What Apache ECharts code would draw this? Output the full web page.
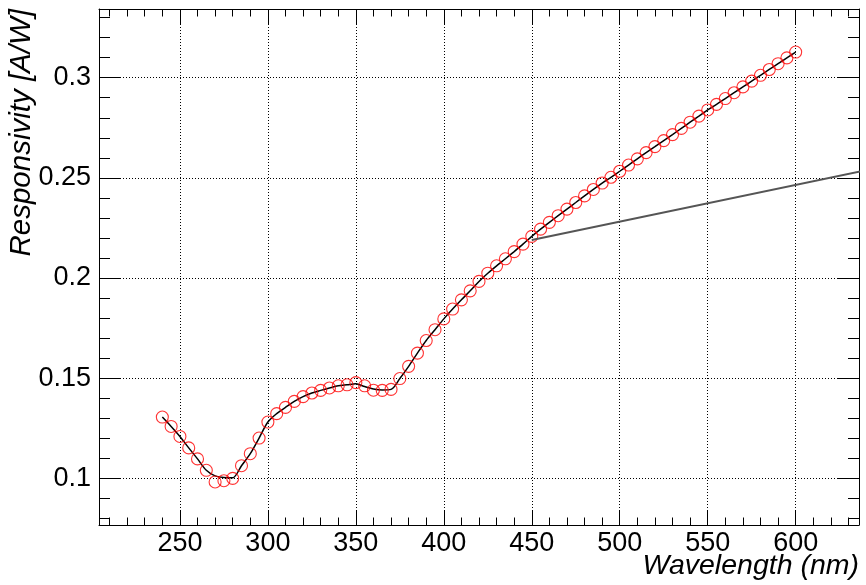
<!DOCTYPE html>
<html><head><meta charset="utf-8">
<script src="https://cdn.jsdelivr.net/npm/echarts@6/dist/echarts.min.js"></script>
<style>html,body{margin:0;padding:0;background:#fff}#c{width:866px;height:585px}</style>
</head><body><div id="c"></div>
<script>
const wavelengths = [240,245,250,255,260,265,270,275,280,285,290,295,300,305,310,315,320,325,330,335,340,345,350,355,360,365,370,375,380,385,390,395,400,405,410,415,420,425,430,435,440,445,450,455,460,465,470,475,480,485,490,495,500,505,510,515,520,525,530,535,540,545,550,555,560,565,570,575,580,585,590,595,600];
const responsivity = [0.1306,0.1259,0.1209,0.1152,0.1097,0.1040,0.0982,0.0988,0.1000,0.1063,0.1123,0.1201,0.1281,0.1323,0.1354,0.1384,0.1408,0.1426,0.1439,0.1451,0.1462,0.1467,0.1478,0.1462,0.1440,0.1439,0.1444,0.1498,0.1559,0.1625,0.1688,0.1742,0.1796,0.1845,0.1891,0.1936,0.1983,0.2024,0.2061,0.2096,0.2132,0.2169,0.2208,0.2244,0.2278,0.2311,0.2344,0.2377,0.2410,0.2442,0.2474,0.2503,0.2533,0.2564,0.2595,0.2626,0.2656,0.2686,0.2716,0.2747,0.2778,0.2808,0.2839,0.2867,0.2896,0.2925,0.2954,0.2983,0.3012,0.3041,0.3070,0.3099,0.3128];
const fitCurve = [0.1306,0.1259,0.1209,0.1152,0.1097,0.1040,0.1012,0.1004,0.1003,0.1063,0.1123,0.1201,0.1281,0.1323,0.1354,0.1384,0.1408,0.1426,0.1439,0.1451,0.1462,0.1467,0.1472,0.1458,0.1446,0.1441,0.1444,0.1498,0.1559,0.1625,0.1688,0.1742,0.1796,0.1845,0.1891,0.1936,0.1983,0.2024,0.2061,0.2096,0.2132,0.2169,0.2208,0.2244,0.2278,0.2311,0.2344,0.2377,0.2410,0.2442,0.2474,0.2503,0.2533,0.2564,0.2595,0.2626,0.2656,0.2686,0.2716,0.2747,0.2778,0.2808,0.2839,0.2867,0.2896,0.2925,0.2954,0.2983,0.3012,0.3041,0.3070,0.3099,0.3128];
const trendX = [450, 700];
const trendY = [0.219, 0.2648];
const xTicks = [250,300,350,400,450,500,550,600];
const xTickLabels = ['250','300','350','400','450','500','550','600'];
const yTicks = [0.1,0.15,0.2,0.25,0.3];
const yTickLabels = ['0.1','0.15','0.2','0.25','0.3'];
const xTitle = 'Wavelength (nm)';
const yTitle = 'Responsivity [A/W]';

// layout
const L = 99, R = 859, T = 9, B = 525;
const X0 = 204, X1 = 636, Y0 = 0.0767, Y1 = 0.3343;
const px = v => L + (v - X0) / (X1 - X0) * (R - L);
const py = v => B - (v - Y0) / (Y1 - Y0) * (B - T);
const FONT = "'Liberation Sans', Arial, Helvetica, sans-serif";

function fmt(ticks, labels) {
  return v => { for (let i = 0; i < ticks.length; i++) if (Math.abs(ticks[i] - v) < 1e-6) return labels[i]; return ''; };
}
const lineBlack = {show: true, onZero: false, lineStyle: {color: '#000', width: 1}};
const dotted = {show: true, lineStyle: {color: '#000', width: 1, type: [1, 2]}};

const chart = echarts.init(document.getElementById('c'), null, {renderer: 'canvas'});
chart.setOption({
  animation: false,
  backgroundColor: '#fff',
  grid: [
    {left: L, top: T, width: R - L, height: B - T, outerBoundsMode: 'none'},
    {left: px(210), top: T, width: px(630) - px(210), height: B - T, outerBoundsMode: 'none'},
    {left: L, top: py(0.33), width: R - L, height: py(0.08) - py(0.33), outerBoundsMode: 'none'}
  ],
  xAxis: [
    {gridIndex: 0, type: 'value', min: X0, max: X1, position: 'bottom', minInterval: 50, maxInterval: 50,
     axisLine: lineBlack, axisTick: {inside: true, length: 15, lineStyle: {color: '#000'}},
     axisLabel: {formatter: fmt(xTicks, xTickLabels), fontSize: 27, color: '#000', fontFamily: FONT, margin: 5, showMinLabel: true, showMaxLabel: true},
     splitLine: dotted,
     name: xTitle, nameLocation: 'end', nameGap: 0, nameMoveOverlap: false,
     nameTextStyle: {fontSize: 28.5, fontStyle: 'italic', fontFamily: FONT, color: '#000', align: 'right', verticalAlign: 'top', padding: [27, 0, 0, 0]}},
    {gridIndex: 0, type: 'value', min: X0, max: X1, position: 'top', minInterval: 50, maxInterval: 50,
     axisLine: lineBlack, axisTick: {inside: true, length: 15, lineStyle: {color: '#000'}},
     axisLabel: {show: false}, splitLine: {show: false}},
    {gridIndex: 1, type: 'value', min: 210, max: 630, interval: 10, position: 'bottom',
     axisLine: {show: false}, axisTick: {inside: true, length: 7.5, lineStyle: {color: '#000'}},
     axisLabel: {show: false}, splitLine: {show: false}},
    {gridIndex: 1, type: 'value', min: 210, max: 630, interval: 10, position: 'top',
     axisLine: {show: false}, axisTick: {inside: true, length: 7.5, lineStyle: {color: '#000'}},
     axisLabel: {show: false}, splitLine: {show: false}},
    {gridIndex: 2, type: 'value', min: 0, max: 1, show: false}
  ],
  yAxis: [
    {gridIndex: 0, type: 'value', min: Y0, max: Y1, position: 'left', minInterval: 0.05, maxInterval: 0.05,
     axisLine: lineBlack, axisTick: {inside: true, length: 22, lineStyle: {color: '#000'}},
     axisLabel: {formatter: fmt(yTicks, yTickLabels), fontSize: 27, color: '#000', fontFamily: FONT, margin: 8},
     splitLine: dotted,
     name: yTitle, nameLocation: 'end', nameGap: 0, nameRotate: 90, nameMoveOverlap: false,
     nameTextStyle: {fontSize: 29.5, fontStyle: 'italic', fontFamily: FONT, color: '#000', align: 'right', verticalAlign: 'bottom', padding: [0, 0, 62, 0]}},
    {gridIndex: 0, type: 'value', min: Y0, max: Y1, position: 'right', minInterval: 0.05, maxInterval: 0.05,
     axisLine: lineBlack, axisTick: {inside: true, length: 22, lineStyle: {color: '#000'}},
     axisLabel: {show: false}, splitLine: {show: false}},
    {gridIndex: 1, type: 'value', min: 0, max: 1, show: false},
    {gridIndex: 2, type: 'value', min: 0.08, max: 0.33, interval: 0.01, position: 'left',
     axisLine: {show: false}, axisTick: {inside: true, length: 11, lineStyle: {color: '#000'}},
     axisLabel: {show: false}, splitLine: {show: false}},
    {gridIndex: 2, type: 'value', min: 0.08, max: 0.33, interval: 0.01, position: 'right',
     axisLine: {show: false}, axisTick: {inside: true, length: 11, lineStyle: {color: '#000'}},
     axisLabel: {show: false}, splitLine: {show: false}}
  ],
  series: [
    {type: 'line', name: 'fit', xAxisIndex: 0, yAxisIndex: 0, data: wavelengths.map((w, i) => [w, fitCurve[i]]),
     smooth: 0.3, symbol: 'none', showSymbol: false, lineStyle: {color: '#000', width: 1.5}, z: 3},
    {type: 'scatter', name: 'data', xAxisIndex: 0, yAxisIndex: 0, data: wavelengths.map((w, i) => [w, responsivity[i]]),
     symbol: 'circle', symbolSize: 12, itemStyle: {color: 'rgba(0,0,0,0)', borderColor: '#ff0000', borderWidth: 1.1}, z: 4},
    {type: 'line', name: 'trend', xAxisIndex: 0, yAxisIndex: 0, data: trendX.map((x, i) => [x, trendY[i]]),
     clip: false, symbol: 'none', showSymbol: false, lineStyle: {color: '#555', width: 2}, z: 5}
  ]
});
</script></body></html>
